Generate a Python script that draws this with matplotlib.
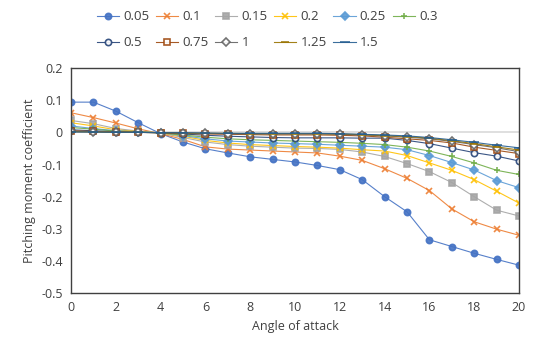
import matplotlib
matplotlib.use("Agg")
import matplotlib.pyplot as plt

angles = list(range(0, 21))

s005 = [0.094, 0.094, 0.066, 0.030, -0.004, -0.030, -0.051, -0.064, -0.076, -0.084, -0.092,
        -0.103, -0.116, -0.147, -0.200, -0.247, -0.334, -0.355, -0.376, -0.395, -0.413]
s01 = [0.061, 0.046, 0.029, 0.011, -0.004, -0.022, -0.045, -0.052, -0.055, -0.058, -0.061,
       -0.064, -0.074, -0.087, -0.113, -0.143, -0.181, -0.238, -0.278, -0.301, -0.320]
s015 = [0.037, 0.027, 0.012, 0.004, -0.002, -0.016, -0.030, -0.038, -0.043, -0.046, -0.049,
        -0.050, -0.053, -0.061, -0.075, -0.097, -0.122, -0.156, -0.200, -0.242, -0.260]
s02 = [0.030, 0.020, 0.008, 0.003, -0.002, -0.012, -0.025, -0.033, -0.038, -0.041, -0.044,
       -0.046, -0.049, -0.054, -0.058, -0.072, -0.095, -0.118, -0.147, -0.183, -0.220]
s025 = [0.020, 0.012, 0.005, 0.002, -0.001, -0.010, -0.020, -0.027, -0.030, -0.033, -0.035,
        -0.037, -0.040, -0.043, -0.046, -0.054, -0.072, -0.094, -0.117, -0.150, -0.172]
s03 = [0.015, 0.010, 0.004, 0.001, -0.001, -0.008, -0.015, -0.020, -0.023, -0.025, -0.027,
       -0.029, -0.031, -0.034, -0.038, -0.046, -0.058, -0.075, -0.095, -0.118, -0.131]
s05 = [0.008, 0.005, 0.002, 0.000, -0.001, -0.005, -0.009, -0.012, -0.014, -0.016, -0.017,
       -0.017, -0.017, -0.018, -0.018, -0.025, -0.035, -0.049, -0.063, -0.074, -0.089]
s075 = [0.005, 0.003, 0.001, 0.000, -0.001, -0.003, -0.005, -0.006, -0.007, -0.008, -0.008,
        -0.008, -0.009, -0.011, -0.015, -0.020, -0.025, -0.033, -0.046, -0.056, -0.066]
s1 = [0.003, 0.002, 0.001, 0.000, -0.001, -0.002, -0.003, -0.004, -0.005, -0.005, -0.005,
      -0.005, -0.006, -0.008, -0.011, -0.015, -0.020, -0.028, -0.038, -0.048, -0.060]
s125 = [0.002, 0.001, 0.000, 0.000, -0.001, -0.002, -0.003, -0.003, -0.004, -0.004, -0.004,
        -0.004, -0.005, -0.007, -0.010, -0.013, -0.018, -0.026, -0.035, -0.045, -0.055]
s15 = [0.001, 0.001, 0.000, 0.000, -0.001, -0.001, -0.002, -0.003, -0.003, -0.003, -0.003,
       -0.003, -0.004, -0.006, -0.008, -0.011, -0.016, -0.023, -0.031, -0.040, -0.048]

labels = ["0.05", "0.1", "0.15", "0.2", "0.25", "0.3", "0.5", "0.75", "1", "1.25", "1.5"]
series = [s005, s01, s015, s02, s025, s03, s05, s075, s1, s125, s15]
colors = ["#4472C4", "#ED7D31", "#A5A5A5", "#FFC000", "#5B9BD5", "#70AD47",
          "#264478", "#9E480E", "#636363", "#997300", "#255E91"]
markers = ["o", "x", "s", "x", "D", "+", "o", "s", "D", "_", "_"]
filled = [True, True, True, True, True, True, False, False, False, True, True]
msizes = [4.5, 4.5, 4.5, 4.5, 4, 5, 4.5, 4.5, 4, 6, 7]

plt.rcParams['font.family'] = ['Open Sans', 'DejaVu Sans']

fig = plt.figure(figsize=(5.34, 3.49), dpi=100)
ax = fig.add_axes([0.133, 0.16, 0.839, 0.645])

ax.axhline(0, color="#D9D9D9", lw=1.2, zorder=0)

handles = []
for ys, lab, c, m, f, ms in zip(series, labels, colors, markers, filled, msizes):
    h, = ax.plot(angles, ys, color=c, lw=0.8, marker=m, markersize=ms,
                 markerfacecolor=(c if f else "white"), markeredgecolor=c,
                 markeredgewidth=1.2, label=lab, alpha=0.9)
    handles.append(h)

ax.set_xlim(0, 20)
ax.set_ylim(-0.5, 0.2)
ax.set_xticks(range(0, 21, 2))
ax.set_yticks([-0.5, -0.4, -0.3, -0.2, -0.1, 0, 0.1, 0.2])
ax.set_yticklabels(["-0.5", "-0.4", "-0.3", "-0.2", "-0.1", "0", "0.1", "0.2"])
ax.tick_params(length=0, labelsize=9, colors="#404040", pad=6)
for sp in ax.spines.values():
    sp.set_color("#404040")
    sp.set_linewidth(1.0)

ax.set_xlabel("Angle of attack", fontsize=9, color="#404040", labelpad=4)
ax.set_ylabel("Pitching moment coefficient", fontsize=9, color="#404040", labelpad=4)

order = [0, 6, 1, 7, 2, 8, 3, 9, 4, 10, 5]
fig.legend([handles[i] for i in order], [labels[i] for i in order],
           loc="upper center", bbox_to_anchor=(0.5, 1.005), ncol=6, frameon=False,
           fontsize=9.5, handlelength=1.7, columnspacing=0.5, handletextpad=0.3,
           labelspacing=1.0, labelcolor="#404040")

fig.savefig("out.png", dpi=100)
